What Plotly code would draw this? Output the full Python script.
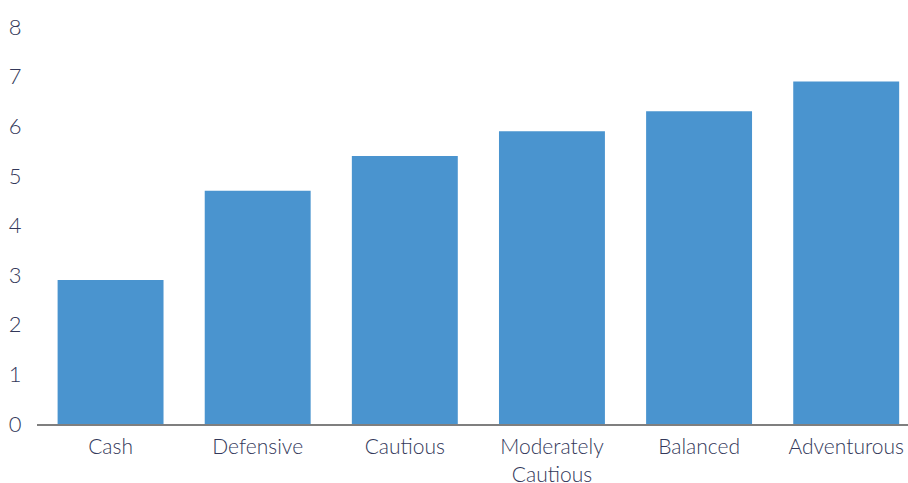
import plotly.graph_objects as go

categories = ["Cash", "Defensive", "Cautious", "Moderately<br>Cautious", "Balanced", "Adventurous"]
values = [2.9, 4.7, 5.4, 5.9, 6.3, 6.9]
y_ticks = [0, 1, 2, 3, 4, 5, 6, 7, 8]

fig = go.Figure(go.Bar(x=categories, y=values, width=0.72, marker=dict(color="#4a94cf", line=dict(width=0))))

fig.update_layout(
    width=908, height=483,
    margin=dict(l=37, r=0, t=27, b=59),
    paper_bgcolor="white", plot_bgcolor="white",
    font=dict(family="Lato, sans-serif", size=20, color="#33385a", weight=300),
    showlegend=False,
)
fig.update_xaxes(
    range=[-0.5, 5.42], showline=True, linecolor="#7f7f7f", linewidth=2,
    showgrid=False, ticks="outside", ticklen=3, tickcolor="rgba(0,0,0,0)",
    tickfont=dict(size=21, weight=300), automargin=False,
)
fig.update_yaxes(
    range=[0, 8], tickvals=y_ticks, showgrid=False, zeroline=False, showline=False,
    ticks="outside", ticklen=10, tickcolor="rgba(0,0,0,0)", tickfont=dict(size=22, weight=300),
    automargin=False,
)
fig.write_html("out.html")
